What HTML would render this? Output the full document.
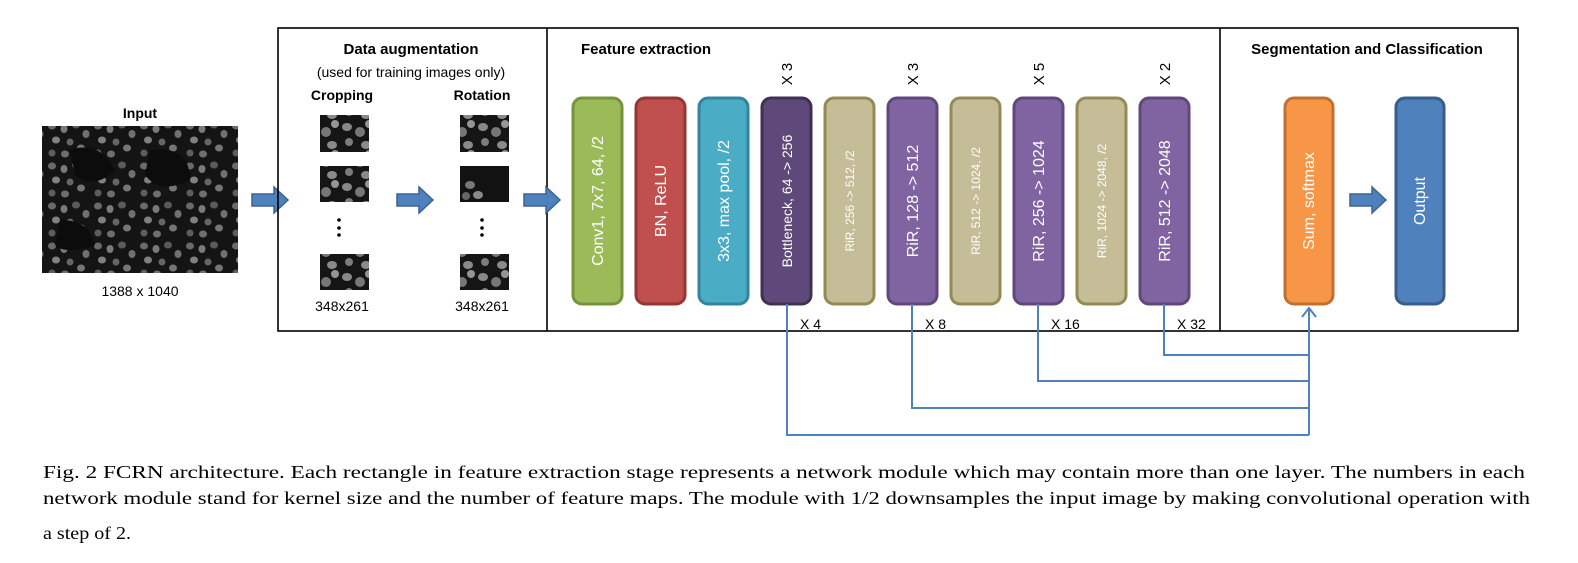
<!DOCTYPE html>
<html><head><meta charset="utf-8"><style>
html,body{margin:0;padding:0;background:#fff;}
svg{display:block;}
.c{font-family:"Liberation Sans",sans-serif;}
</style></head><body>
<svg width="1578" height="563" viewBox="0 0 1578 563" xmlns="http://www.w3.org/2000/svg">
<defs>
<pattern id="cells" width="46" height="40" patternUnits="userSpaceOnUse">
<rect width="46" height="40" fill="#141414"/>
<ellipse cx="6" cy="6" rx="4" ry="3.5" fill="#6a6a6a"/>
<ellipse cx="18" cy="9" rx="3.5" ry="4" fill="#7a7a7a"/>
<ellipse cx="30" cy="5" rx="4" ry="3.5" fill="#5a5a5a"/>
<ellipse cx="40" cy="14" rx="3.5" ry="4" fill="#707070"/>
<ellipse cx="10" cy="20" rx="4" ry="3.5" fill="#808080"/>
<ellipse cx="24" cy="22" rx="3.5" ry="3.5" fill="#656565"/>
<ellipse cx="35" cy="28" rx="4" ry="3.5" fill="#757575"/>
<ellipse cx="6" cy="33" rx="3.5" ry="3.5" fill="#5d5d5d"/>
<ellipse cx="19" cy="34" rx="4" ry="3.5" fill="#6f6f6f"/>
</pattern>
<pattern id="cells2" width="34" height="30" patternUnits="userSpaceOnUse">
<rect width="34" height="30" fill="#151515"/>
<ellipse cx="7" cy="7" rx="5" ry="4" fill="#888"/>
<ellipse cx="20" cy="12" rx="5" ry="5" fill="#777"/>
<ellipse cx="29" cy="4" rx="4" ry="4" fill="#959595"/>
<ellipse cx="9" cy="22" rx="4" ry="4" fill="#7c7c7c"/>
<ellipse cx="26" cy="25" rx="5" ry="4" fill="#8a8a8a"/>
</pattern>
<g id="barrow"><path d="M0,-6 H22 V-13 L36,0 L22,13 V6 H0 Z" fill="#4f81bd" stroke="#3b6391" stroke-width="1.5"/></g>
</defs>

<text x="140" y="118" class="c" font-size="14" font-weight="bold" text-anchor="middle">Input</text>
<rect x="42" y="126" width="196" height="147" fill="url(#cells)"/>
<path d="M70,150 q30,-10 45,20 q-20,20 -40,5z M150,150 q40,-5 40,30 q-30,15 -45,-5z M60,220 q30,0 35,25 q-30,10 -40,0z" fill="#0c0c0c"/>
<text x="140" y="296" class="c" font-size="14" text-anchor="middle">1388 x 1040</text>

<use href="#barrow" x="252" y="200"/>

<rect x="278" y="28" width="1240" height="303" fill="none" stroke="#000" stroke-width="1.6"/>
<line x1="547" y1="28" x2="547" y2="331" stroke="#000" stroke-width="1.6"/>
<line x1="1220" y1="28" x2="1220" y2="331" stroke="#000" stroke-width="1.6"/>

<text x="411" y="54" class="c" font-size="15" font-weight="bold" text-anchor="middle">Data augmentation</text>
<text x="411" y="77" class="c" font-size="14" text-anchor="middle">(used for training images only)</text>
<text x="342" y="100" class="c" font-size="14" font-weight="bold" text-anchor="middle">Cropping</text>
<text x="482" y="100" class="c" font-size="14" font-weight="bold" text-anchor="middle">Rotation</text>
<rect x="320" y="115" width="49" height="37" fill="url(#cells2)"/>
<rect x="320" y="166" width="49" height="36" fill="url(#cells2)"/>
<rect x="320" y="254" width="49" height="36" fill="url(#cells2)"/>
<rect x="460" y="115" width="49" height="37" fill="url(#cells2)"/>
<rect x="460" y="166" width="49" height="36" fill="#121212"/>
<ellipse cx="470" cy="185" rx="5" ry="4" fill="#777"/><ellipse cx="478" cy="195" rx="5" ry="4" fill="#888"/><ellipse cx="466" cy="196" rx="4" ry="4" fill="#666"/>
<rect x="460" y="254" width="49" height="36" fill="url(#cells2)"/>
<circle cx="339" cy="220" r="1.8"/><circle cx="339" cy="228" r="1.8"/><circle cx="339" cy="235" r="1.8"/>
<circle cx="482" cy="220" r="1.8"/><circle cx="482" cy="228" r="1.8"/><circle cx="482" cy="235" r="1.8"/>
<text x="342" y="311" class="c" font-size="14" text-anchor="middle">348x261</text>
<text x="482" y="311" class="c" font-size="14" text-anchor="middle">348x261</text>
<use href="#barrow" x="397" y="200"/>
<use href="#barrow" x="524" y="200"/>

<text x="581" y="54" class="c" font-size="15" font-weight="bold">Feature extraction</text>
<g stroke-width="3">
<rect x="573" y="98" width="49" height="206" rx="9" fill="#9bbb59" stroke="#77933c"/>
<rect x="636" y="98" width="49" height="206" rx="9" fill="#c0504d" stroke="#943634"/>
<rect x="699" y="98" width="49" height="206" rx="9" fill="#4bacc6" stroke="#31859c"/>
<rect x="762" y="98" width="49" height="206" rx="9" fill="#5f497a" stroke="#403152"/>
<rect x="825" y="98" width="49" height="206" rx="9" fill="#c4bd97" stroke="#948a54"/>
<rect x="888" y="98" width="49" height="206" rx="9" fill="#8064a2" stroke="#5f497a"/>
<rect x="951" y="98" width="49" height="206" rx="9" fill="#c4bd97" stroke="#948a54"/>
<rect x="1014" y="98" width="49" height="206" rx="9" fill="#8064a2" stroke="#5f497a"/>
<rect x="1077" y="98" width="49" height="206" rx="9" fill="#c4bd97" stroke="#948a54"/>
<rect x="1140" y="98" width="49" height="206" rx="9" fill="#8064a2" stroke="#5f497a"/>
<rect x="1285" y="98" width="48" height="206" rx="9" fill="#f79646" stroke="#c0712f"/>
<rect x="1396" y="98" width="48" height="206" rx="9" fill="#4f81bd" stroke="#385d8a"/>
</g>
<g class="c" fill="#fff" text-anchor="middle">
<text transform="translate(603,201) rotate(-90)" font-size="16">Conv1, 7x7, 64, /2</text>
<text transform="translate(666,201) rotate(-90)" font-size="16">BN, ReLU</text>
<text transform="translate(729,201) rotate(-90)" font-size="16">3x3,  max pool, /2</text>
<text transform="translate(792,201) rotate(-90)" font-size="14">Bottleneck, 64 -&gt; 256</text>
<text transform="translate(854,201) rotate(-90)" font-size="12">RiR, 256 -&gt; 512, /2</text>
<text transform="translate(918,201) rotate(-90)" font-size="16">RiR, 128 -&gt; 512</text>
<text transform="translate(980,201) rotate(-90)" font-size="12">RiR,  512 -&gt; 1024, /2</text>
<text transform="translate(1044,201) rotate(-90)" font-size="16">RiR,  256 -&gt; 1024</text>
<text transform="translate(1106,201) rotate(-90)" font-size="12">RiR,  1024 -&gt; 2048, /2</text>
<text transform="translate(1170,201) rotate(-90)" font-size="16">RiR,  512 -&gt; 2048</text>
<text transform="translate(1314,201) rotate(-90)" font-size="16">Sum, softmax</text>
<text transform="translate(1425,201) rotate(-90)" font-size="16">Output</text>
</g>
<g class="c" font-size="15" text-anchor="middle">
<text transform="translate(792,74) rotate(-90)">X 3</text>
<text transform="translate(918,74) rotate(-90)">X 3</text>
<text transform="translate(1044,74) rotate(-90)">X 5</text>
<text transform="translate(1170,74) rotate(-90)">X 2</text>
</g>
<g class="c" font-size="14">
<text x="800" y="329">X 4</text>
<text x="925" y="329">X 8</text>
<text x="1051" y="329">X 16</text>
<text x="1177" y="329">X 32</text>
</g>

<text x="1367" y="54" class="c" font-size="15" font-weight="bold" text-anchor="middle">Segmentation and Classification</text>
<use href="#barrow" x="1350" y="200"/>

<g fill="none" stroke="#4f81bd" stroke-width="2">
<path d="M787,304 V435 H1309"/>
<path d="M912,304 V408 H1309"/>
<path d="M1038,304 V381 H1309"/>
<path d="M1164,304 V355 H1309"/>
<path d="M1309,435 V308"/>
<path d="M1302,317 L1309,308 L1316,317"/>
</g>

<g font-family="'Liberation Serif',serif" font-size="18">
<text x="43" y="478" textLength="1482" lengthAdjust="spacingAndGlyphs">Fig. 2  FCRN architecture. Each rectangle in feature extraction stage represents a network module which may contain more than one layer. The numbers in each</text>
<text x="43" y="504" textLength="1487" lengthAdjust="spacingAndGlyphs">network module stand for kernel size and the number of feature maps. The module with 1/2 downsamples the input image by making convolutional operation with</text>
<text x="43" y="539" textLength="88" lengthAdjust="spacingAndGlyphs">a step of 2.</text>
</g>
</svg>
</body></html>
